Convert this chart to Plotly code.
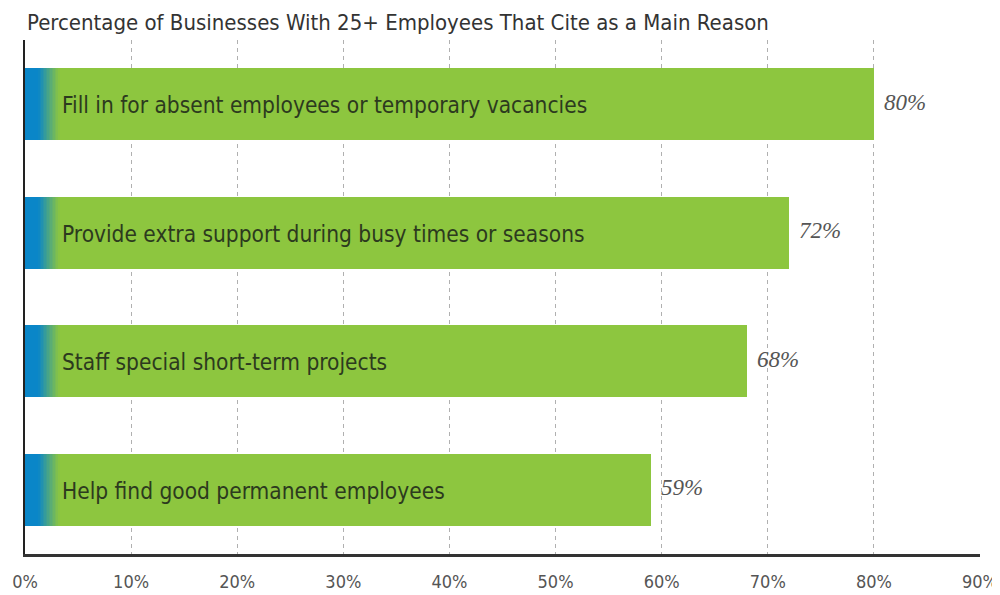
import plotly.graph_objects as go

title = "Percentage of Businesses With 25+ Employees That Cite as a Main Reason"
categories = [
    "Fill in for absent employees or temporary vacancies",
    "Provide extra support during busy times or seasons",
    "Staff special short-term projects",
    "Help find good permanent employees",
]
values = [80, 72, 68, 59]
tick_vals = [0, 10, 20, 30, 40, 50, 60, 70, 80, 90]
tick_text = ["0%", "10%", "20%", "30%", "40%", "50%", "60%", "70%", "80%", "90%"]

GREEN = (141, 198, 63)
BLUE = (10, 134, 200)
BAR_W = 0.56
COND = "DejaVu Sans Condensed, Liberation Sans Narrow, sans-serif"

fig = go.Figure()
fig.add_trace(go.Bar(
    y=categories, x=values, orientation="h", width=BAR_W,
    marker=dict(color="rgb(%d,%d,%d)" % GREEN, line=dict(width=0)),
    hoverinfo="skip", showlegend=False,
))

# blue-to-green gradient at the left end of each bar (decoration)
solid = 1.3
steps = 14
grad_len = 2.0
def mix(t):
    return "rgb(%d,%d,%d)" % tuple(round(BLUE[i] + (GREEN[i] - BLUE[i]) * t) for i in range(3))
fig.add_trace(go.Bar(
    y=categories, x=[solid] * len(categories), base=[0] * len(categories),
    orientation="h", width=BAR_W, marker=dict(color=mix(0), line=dict(width=0)),
    hoverinfo="skip", showlegend=False,
))
for k in range(steps):
    t = (k + 0.5) / steps
    fig.add_trace(go.Bar(
        y=categories, x=[grad_len / steps * 1.05] * len(categories),
        base=[solid + grad_len * k / steps] * len(categories),
        orientation="h", width=BAR_W, marker=dict(color=mix(t), line=dict(width=0)),
        hoverinfo="skip", showlegend=False,
    ))

annotations = []
for c, v in zip(categories, values):
    annotations.append(dict(
        x=0, y=c, xref="x", yref="y", text=c, showarrow=False,
        xanchor="left", xshift=35, yshift=-1,
        font=dict(family=COND, size=22.5, color="#2c3a1e"),
    ))
    annotations.append(dict(
        x=v, y=c, xref="x", yref="y", text="%d%%" % v, showarrow=False,
        xanchor="left", xshift=8, yshift=2,
        font=dict(family="Liberation Serif, Times New Roman, serif", size=23,
                  color="#555555", style="italic"),
    ))
annotations.append(dict(
    x=0, y=1, xref="paper", yref="paper", text=title, showarrow=False,
    xanchor="left", yanchor="bottom", xshift=1, yshift=4, borderpad=0,
    font=dict(family=COND, size=22, color="#333333"),
))

# the page body adds an 8px offset, so the canvas is sized to fit the window
fig.update_layout(
    barmode="overlay",
    width=992, height=587,
    margin=dict(l=17, r=20, t=32, b=41),
    paper_bgcolor="white", plot_bgcolor="white",
    annotations=annotations,
    bargap=0,
)
fig.update_xaxes(
    range=[0, 90], tickvals=tick_vals, ticktext=tick_text,
    showgrid=True, gridcolor="#b0b0b0", griddash="4px,4px", gridwidth=1,
    showline=True, linecolor="#333333", linewidth=3,
    ticks="", ticklabelstandoff=9, zeroline=False, automargin=False,
    tickfont=dict(family=COND, size=18, color="#555555"),
)
fig.update_yaxes(
    categoryorder="array", categoryarray=categories, autorange="reversed",
    showticklabels=False, showgrid=False, zeroline=False, automargin=False,
    showline=True, linecolor="#222222", linewidth=2, ticks="",
)
fig.write_html("out.html")
